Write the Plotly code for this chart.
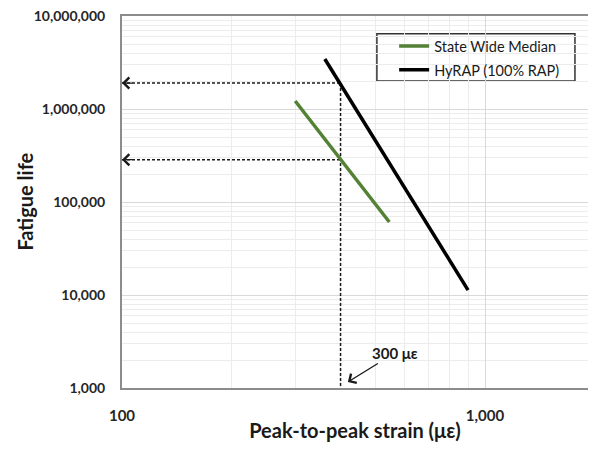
import numpy as np
import plotly.graph_objects as go

# Data
state_x = [300, 545]
state_y = [1220000, 61000]
hyrap_x = [362, 898]
hyrap_y = [3450000, 11300]

ref_strain = 400
ref_life_hyrap = 1900000
ref_life_state = 285000
x_floor = 100
y_floor = 1000

x_tickvals = [100, 1000]
x_ticktext = ["100", "1,000"]
y_tickvals = [1000, 10000, 100000, 1000000, 10000000]
y_ticktext = ["1,000", "10,000", "100,000", "1,000,000", "10,000,000"]

FONT = "Lato"
GRID = "#d9d9d9"

fig = go.Figure()

# dashed guide lines
dash_style = dict(color="#1a1a1a", width=1.5, dash="3px,2px")
fig.add_trace(go.Scatter(x=[x_floor, ref_strain], y=[ref_life_hyrap, ref_life_hyrap],
                         mode="lines", line=dash_style, showlegend=False, hoverinfo="skip"))
fig.add_trace(go.Scatter(x=[x_floor, ref_strain], y=[ref_life_state, ref_life_state],
                         mode="lines", line=dash_style, showlegend=False, hoverinfo="skip"))
fig.add_trace(go.Scatter(x=[ref_strain, ref_strain], y=[ref_life_hyrap, y_floor],
                         mode="lines", line=dash_style, showlegend=False, hoverinfo="skip"))

fig.add_trace(go.Scatter(x=state_x, y=state_y, mode="lines", name="State Wide Median",
                         line=dict(color="#538135", width=3.5), legend="legend"))
fig.add_trace(go.Scatter(x=hyrap_x, y=hyrap_y, mode="lines", name="HyRAP (100% RAP)",
                         line=dict(color="#000000", width=3.5), legend="legend2"))

# arrowheads on the horizontal guides
for yv in [ref_life_hyrap, ref_life_state]:
    fig.add_annotation(x=np.log10(x_floor), y=np.log10(yv), ax=12, ay=0, text="",
                       showarrow=True, arrowhead=4, arrowsize=1.8, arrowwidth=1.2,
                       arrowcolor="#1a1a1a", xref="x", yref="y")

# 300 με callout
fig.add_annotation(x=np.log10(419), y=np.log10(1160), ax=47, ay=-29,
                   text="<b>300 με</b>", showarrow=True, arrowhead=4, arrowsize=1.5,
                   arrowwidth=1.4, arrowcolor="#1a1a1a",
                   font=dict(family=FONT, size=15, color="#1a1a1a"))

# y-axis title
fig.add_annotation(text="<b>Fatigue life</b>", xref="paper", yref="paper",
                   x=-0.209, y=0.5, xanchor="center", yanchor="middle", textangle=-90,
                   showarrow=False, font=dict(family=FONT, size=20, color="#1a1a1a"))

# legend frame
fig.add_shape(type="rect", xref="paper", yref="paper", x0=0.547, x1=0.972, y0=0.825, y1=0.952,
              line=dict(color="#333333", width=1.5), fillcolor="white", layer="between")

minor_x = [m * d for d in [100, 1000] for m in range(2, 10) if m * d <= 2000]
minor_y = [m * d for d in [1000, 10000, 100000, 1000000] for m in range(2, 10)]

fig.update_xaxes(type="log", range=[2, 2 + 466 / 363], automargin=False,
                 tickvals=x_tickvals, ticktext=x_ticktext,
                 showgrid=True, gridcolor=GRID, gridwidth=1,
                 minor=dict(tickvals=minor_x, showgrid=True, gridcolor="#ececec", gridwidth=1),
                 showline=True, linecolor="#8c8c8c", linewidth=2, mirror=True,
                 ticks="", ticklabelstandoff=13, ticklabeloverflow="allow",
                 tickfont=dict(family=FONT, size=15, color="#262626", weight="bold"),
                 title=dict(text="<b>Peak-to-peak strain (με)</b>", standoff=6,
                            font=dict(family=FONT, size=20, color="#1a1a1a")),
                 zeroline=False)
fig.update_yaxes(type="log", range=[3, 7], automargin=False,
                 tickvals=y_tickvals, ticktext=y_ticktext,
                 showgrid=True, gridcolor=GRID, gridwidth=1,
                 minor=dict(tickvals=minor_y, showgrid=True, gridcolor="#ececec", gridwidth=1),
                 showline=True, linecolor="#8c8c8c", linewidth=2, mirror=True,
                 ticks="", ticklabelstandoff=12, ticklabeloverflow="allow",
                 tickfont=dict(family=FONT, size=14, color="#262626", weight="bold"),
                 zeroline=False)

leg_common = dict(xanchor="left", yanchor="middle", bgcolor="rgba(0,0,0,0)", borderwidth=0,
                  font=dict(family=FONT, size=14.5, color="#1a1a1a"), itemwidth=30)

# page body adds an 8px margin on every side, so the figure is sized to fit 596x450
fig.update_layout(
    width=580, height=434,
    margin=dict(l=114, r=0, t=8, b=54, autoexpand=False),
    plot_bgcolor="white", paper_bgcolor="white",
    showlegend=True,
    legend=dict(x=0.584, y=0.919, **leg_common),
    legend2=dict(x=0.584, y=0.855, **leg_common),
)

fig.write_html("out.html")
